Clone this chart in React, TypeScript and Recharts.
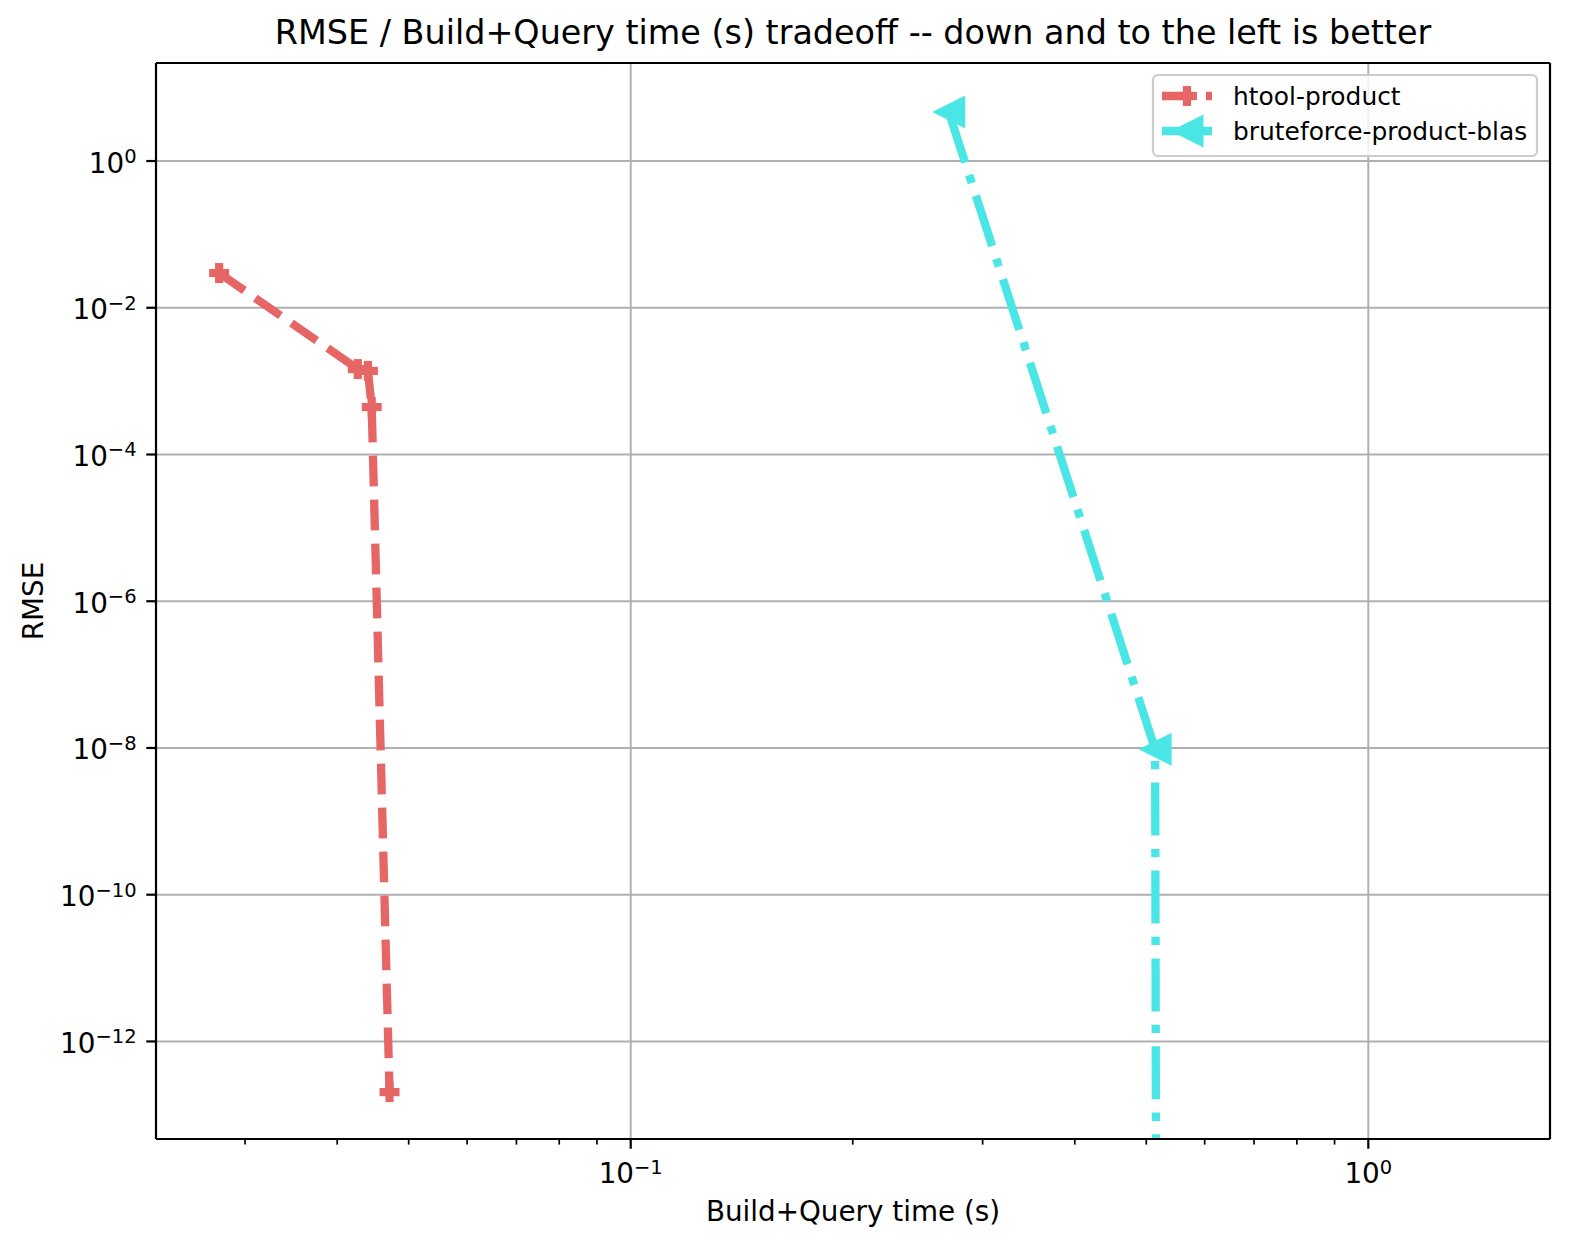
import React from "react";
import { LineChart, Line, XAxis, YAxis, ReferenceLine } from "recharts";

// series values (log-log)
const htoolTime = [0.02767, 0.04266, 0.04403, 0.04455, 0.0471];
const htoolRmse = [0.02972, 0.001459, 0.001379, 0.000443, 2.04e-13];
const bruteTime = [0.2699, 0.514, 0.517];
const bruteRmse = [4.66, 9.6e-9, 1e-20]; // last one is ~0, clipped below the axes

const seriesNames = ["htool-product", "bruteforce-product-blas"];

const xMajorTicks = [0.1, 1];
const xMinorTicks = [0.03, 0.04, 0.05, 0.06, 0.07, 0.08, 0.09, 0.2, 0.3, 0.4, 0.5, 0.6, 0.7, 0.8, 0.9];
const yMajorTicks = [1, 1e-2, 1e-4, 1e-6, 1e-8, 1e-10, 1e-12];
const xDomain = [0.02272, 1.7633];
const yDomain = [4.68e-14, 21.68];

const RED = "#e66666";
const CYAN = "#4ae5e5";
const FONT = "DejaVu Sans";
const LW = 8.3;

const htoolData = htoolTime.map((t, i) => ({ time: t, rmse: htoolRmse[i] }));
const bruteData = bruteTime.map((t, i) => ({ time: t, rmse: bruteRmse[i] }));

const isMajor = (v: number) => Math.abs(Math.log10(v) - Math.round(Math.log10(v))) < 1e-6;
const expLabel = (v: number) => {
  const e = Math.round(Math.log10(v));
  return e < 0 ? "\u2212" + Math.abs(e) : String(e);
};

function XTick({ x, y, payload }: any) {
  const v = payload.value;
  const major = isMajor(v);
  return (
    <g>
      <line x1={x} x2={x} y1={y} y2={y + (major ? 9.7 : 5.6)} stroke="#000" strokeWidth={major ? 2.2 : 1.7} />
      {major && (
        <text x={x} y={y + 44} textAnchor="middle" fontFamily={FONT} fontSize={27.8} fill="#000">
          10<tspan dy={-9.5} fontSize={19.5}>{expLabel(v)}</tspan>
        </text>
      )}
    </g>
  );
}

function YTick({ x, y, payload }: any) {
  const v = payload.value;
  return (
    <g>
      <line x1={x - 9.7} x2={x} y1={y} y2={y} stroke="#000" strokeWidth={2.2} />
      <text x={x - 19.4} y={y + 11.5} textAnchor="end" fontFamily={FONT} fontSize={27.8} fill="#000">
        10<tspan dy={-9.5} fontSize={19.5}>{expLabel(v)}</tspan>
      </text>
    </g>
  );
}

function PlusMarker({ cx, cy, color }: { cx: number; cy: number; color: string }) {
  const h = 10;
  const t = 4.1;
  return (
    <g fill={color}>
      <rect x={cx - h} y={cy - t} width={2 * h} height={2 * t} />
      <rect x={cx - t} y={cy - h} width={2 * t} height={2 * h} />
    </g>
  );
}

function TriMarker({ cx, cy, color }: { cx: number; cy: number; color: string }) {
  const s = 16.5;
  return <polygon points={`${cx - s},${cy} ${cx + s},${cy - s} ${cx + s},${cy + s}`} fill={color} />;
}

function Overlay() {
  const lx = 1153;
  const ly = 75;
  return (
    <svg width={1570} height={1249} style={{ position: "absolute", left: 0, top: 0, pointerEvents: "none" }}>
      <text x={853} y={44} textAnchor="middle" fontFamily={FONT} fontSize={33.4} fill="#000">
        RMSE / Build+Query time (s) tradeoff -- down and to the left is better
      </text>
      <rect x={lx} y={ly} width={384} height={81} rx={5} fill="#fff" fillOpacity={0.8} stroke="#cccccc" strokeWidth={2.2} />
      <line x1={1162} x2={1212} y1={96} y2={96} stroke={RED} strokeWidth={LW} strokeDasharray="30.7 13.3" />
      <PlusMarker cx={1187} cy={96} color={RED} />
      <text x={1233} y={105} fontFamily={FONT} fontSize={24.9} fill="#000">{seriesNames[0]}</text>
      <line x1={1162} x2={1212} y1={131} y2={131} stroke={CYAN} strokeWidth={LW} strokeDasharray="53 13.3 8.3 13.3" />
      <TriMarker cx={1187} cy={131} color={CYAN} />
      <text x={1233} y={140} fontFamily={FONT} fontSize={24.9} fill="#000">{seriesNames[1]}</text>
    </svg>
  );
}

export default function App() {
  return (
    <div style={{ position: "absolute", left: 0, top: 0, width: 1570, height: 1249, background: "#fff" }}>
      <LineChart width={1570} height={1249} margin={{ top: 63, right: 20, bottom: 0, left: 0 }}>
        <XAxis
          dataKey="time"
          type="number"
          scale="log"
          domain={xDomain}
          allowDataOverflow
          ticks={[...xMinorTicks, ...xMajorTicks].sort((a, b) => a - b)}
          interval={0}
          tick={<XTick />}
          tickLine={false}
          tickSize={0}
          tickMargin={0}
          height={110}
          axisLine={{ stroke: "#000", strokeWidth: 2.2 }}
          label={{
            content: (p: any) => (
              <text x={p.viewBox.x + p.viewBox.width / 2} y={p.viewBox.y + 82} textAnchor="middle" fontFamily={FONT} fontSize={27.8} fill="#000">
                Build+Query time (s)
              </text>
            ),
          }}
        />
        <YAxis
          dataKey="rmse"
          type="number"
          scale="log"
          domain={yDomain}
          allowDataOverflow
          ticks={yMajorTicks}
          interval={0}
          tick={<YTick />}
          tickLine={false}
          tickSize={0}
          tickMargin={0}
          width={156}
          axisLine={{ stroke: "#000", strokeWidth: 2.2 }}
          label={{
            content: (p: any) => (
              <text x={43} y={p.viewBox.y + p.viewBox.height / 2} transform={`rotate(-90, 43, ${p.viewBox.y + p.viewBox.height / 2})`} textAnchor="middle" fontFamily={FONT} fontSize={27.8} fill="#000">
                RMSE
              </text>
            ),
          }}
        />
        {xMajorTicks.map((v) => (
          <ReferenceLine key={`gx${v}`} x={v} stroke="#b0b0b0" strokeWidth={2} />
        ))}
        {yMajorTicks.map((v) => (
          <ReferenceLine key={`gy${v}`} y={v} stroke="#b0b0b0" strokeWidth={2} />
        ))}
        <ReferenceLine x={xDomain[1]} stroke="#000" strokeWidth={2.2} ifOverflow="visible" />
        <ReferenceLine y={yDomain[1]} stroke="#000" strokeWidth={2.2} ifOverflow="visible" />
        <Line
          data={htoolData}
          dataKey="rmse"
          name={seriesNames[0]}
          type="linear"
          stroke={RED}
          strokeWidth={LW}
          strokeDasharray="30.7 13.3"
          strokeLinejoin="round"
          isAnimationActive={false}
          dot={(p: any) => <PlusMarker key={`h${p.index}`} cx={p.cx} cy={p.cy} color={RED} />}
          activeDot={false}
        />
        <Line
          data={bruteData}
          dataKey="rmse"
          name={seriesNames[1]}
          type="linear"
          stroke={CYAN}
          strokeWidth={LW}
          strokeDasharray="53 13.3 8.3 13.3"
          strokeLinejoin="round"
          isAnimationActive={false}
          dot={(p: any) => <TriMarker key={`b${p.index}`} cx={p.cx} cy={p.cy} color={CYAN} />}
          activeDot={false}
        />
      </LineChart>
      <Overlay />
    </div>
  );
}
